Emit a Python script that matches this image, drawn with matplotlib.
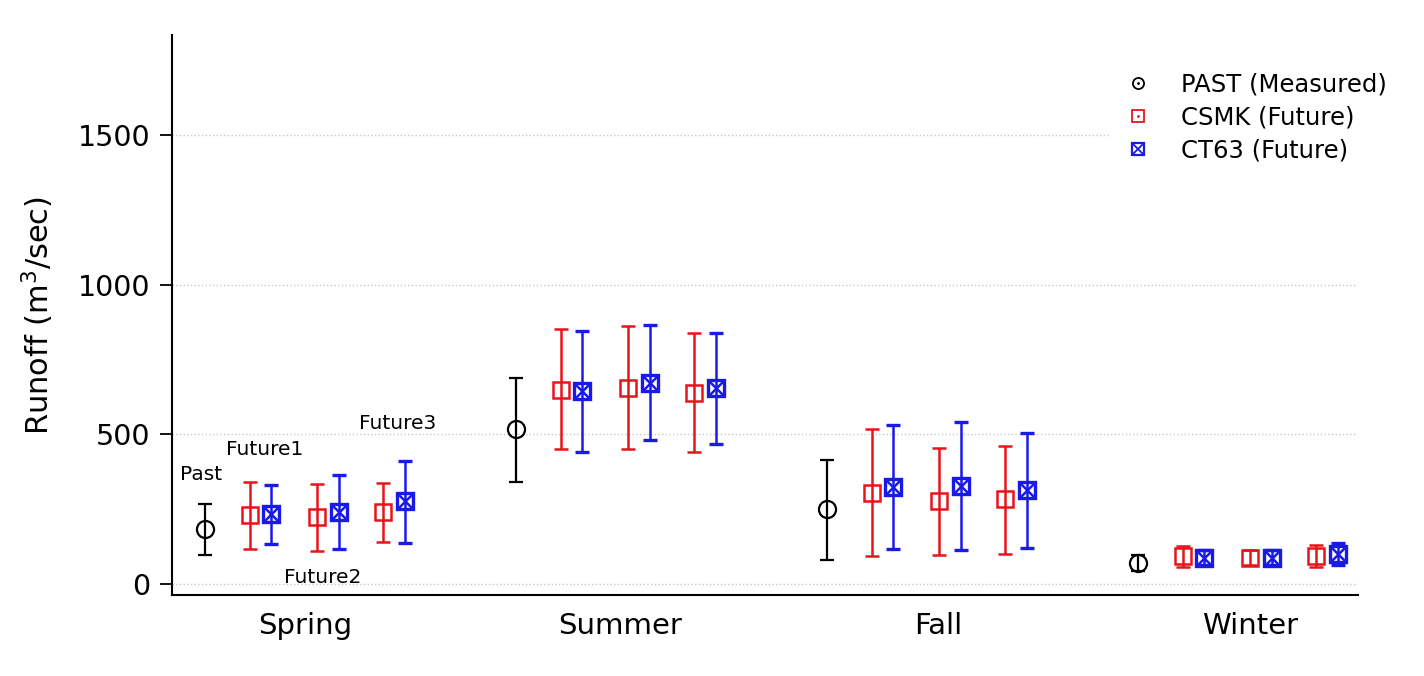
import matplotlib.pyplot as plt
from matplotlib.lines import Line2D
from matplotlib.legend_handler import HandlerTuple
import numpy as np

# Data (m^3/sec)
seasons = ['Spring', 'Summer', 'Fall', 'Winter']

past_mean = [183, 519, 251, 71]
past_low = [97, 341, 79, 44]
past_high = [266, 689, 415, 98]

# rows: season, columns: Future1, Future2, Future3
csmk_mean = [[229, 222, 239], [649, 653, 639], [305, 276, 283], [94, 88, 94]]
csmk_low = [[118, 110, 141], [450, 450, 442], [95, 96, 101], [56, 62, 55]]
csmk_high = [[342, 333, 337], [852, 862, 837], [516, 455, 462], [128, 114, 130]]

ct63_mean = [[234, 241, 276], [644, 672, 654], [324, 327, 313], [88, 88, 101]]
ct63_low = [[135, 118, 137], [442, 481, 469], [118, 114, 121], [62, 62, 63]]
ct63_high = [[331, 363, 411], [845, 864, 840], [531, 540, 503], [114, 114, 138]]

# Spring annotations
notes = ['Past', 'Future1', 'Future2', 'Future3']
note_x = [-0.335, -0.129, 0.055, 0.296]
note_y = [364, 448, 23, 535]

# layout offsets within a season group
past_off = -0.322
csmk_off = [-0.177, 0.039, 0.251]
ct63_off = [-0.109, 0.109, 0.322]
label_shift = [0, 0.013, 0.036, 0.04]

plt.rcParams['font.family'] = 'DejaVu Sans'

fig = plt.figure(figsize=(14.24, 6.76), dpi=100)
ax = fig.add_axes([0.1208, 0.1198, 0.8329, 0.8284])

idx = np.arange(len(seasons))
red = '#e8141c'
blue = '#1a1ae6'

# past
pm = np.array(past_mean)
ax.errorbar(idx + past_off, pm, yerr=[pm - past_low, np.array(past_high) - pm],
            fmt='o', ms=12.3, mfc='none', mec='black', mew=1.6, ecolor='black',
            elinewidth=1.6, capsize=5.3, capthick=1.6, zorder=3)

# future runs
for j in range(3):
    cm = np.array([r[j] for r in csmk_mean])
    cl = np.array([r[j] for r in csmk_low])
    ch = np.array([r[j] for r in csmk_high])
    ax.errorbar(idx + csmk_off[j], cm, yerr=[cm - cl, ch - cm],
                fmt='s', ms=12, mfc='none', mec=red, mew=1.8, ecolor=red,
                elinewidth=1.8, capsize=5.3, capthick=1.8, zorder=3)

    tm = np.array([r[j] for r in ct63_mean])
    tl = np.array([r[j] for r in ct63_low])
    th = np.array([r[j] for r in ct63_high])
    ax.errorbar(idx + ct63_off[j], tm, yerr=[tm - tl, th - tm],
                fmt='s', ms=12, mfc='none', mec=blue, mew=2.4, ecolor=blue,
                elinewidth=1.8, capsize=5.3, capthick=1.8, zorder=3)
    ax.plot(idx + ct63_off[j], tm, 'x', ms=12, mec=blue, mew=1.8, zorder=4)

for txt, x, y in zip(notes, note_x, note_y):
    ax.text(x, y, txt, ha='center', va='center', fontsize=14.5)

ax.set_xlim(-0.428, 3.386)
ax.set_ylim(-37, 1834)
ax.set_yticks([0, 500, 1000, 1500])
ax.set_xticks(idx + np.array(label_shift))
ax.set_xticklabels(seasons, fontsize=21)
ax.tick_params(axis='x', length=0, pad=12)
ax.tick_params(axis='y', labelsize=20.5, length=8.5, width=1.3, direction='out', pad=7)
ax.yaxis.grid(True, linestyle=':', color='#c8c8c8', linewidth=1)
ax.set_axisbelow(True)
for s in ['top', 'right']:
    ax.spines[s].set_visible(False)
for s in ['left', 'bottom']:
    ax.spines[s].set_linewidth(1.5)

ax.set_ylabel('Runoff (m$^3$/sec)', fontsize=22)
ax.yaxis.set_label_coords(-0.098, 0.5)

# legend
h_past = (Line2D([], [], ls='none', marker='o', ms=8, mfc='none', mec='black', mew=1.3),
          Line2D([], [], ls='none', marker='.', ms=2, color='black'))
h_csmk = (Line2D([], [], ls='none', marker='s', ms=8, mfc='none', mec=red, mew=1.3),
          Line2D([], [], ls='none', marker='.', ms=2, color=red))
h_ct63 = (Line2D([], [], ls='none', marker='s', ms=8, mfc='none', mec=blue, mew=1.6),
          Line2D([], [], ls='none', marker='x', ms=8, mec=blue, mew=1.3))
leg = ax.legend([h_past, h_csmk, h_ct63],
                ['PAST (Measured)', 'CSMK (Future)', 'CT63 (Future)'],
                handler_map={tuple: HandlerTuple(ndivide=1)},
                loc='upper left', bbox_to_anchor=(1098 / 1424, 1 - 51 / 676),
                bbox_transform=fig.transFigure, fontsize=17.5, frameon=True,
                facecolor='white', edgecolor='none', framealpha=1, fancybox=False,
                handlelength=1.5, handletextpad=1.0, labelspacing=0.37, borderpad=0.4)

fig.savefig('out.png', dpi=100)
